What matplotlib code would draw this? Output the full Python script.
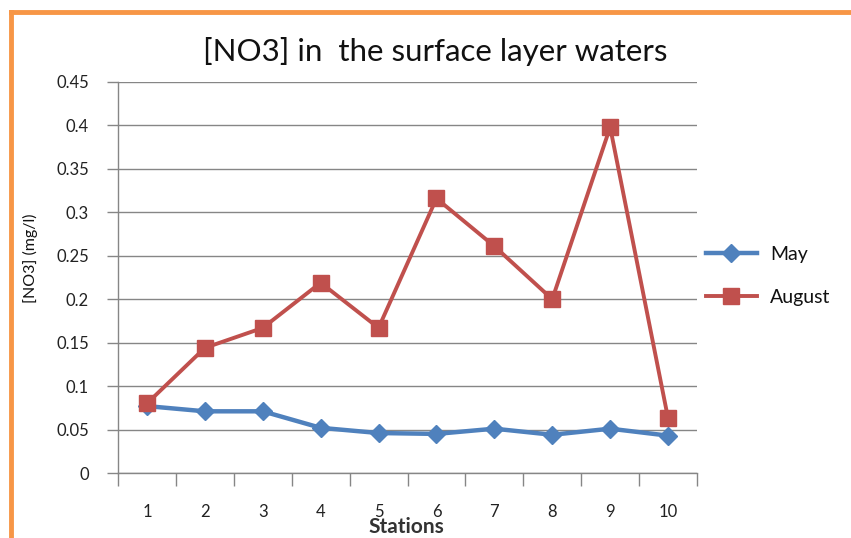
import matplotlib
matplotlib.use("Agg")
import matplotlib.pyplot as plt
from matplotlib.lines import Line2D

plt.rcParams['font.family'] = ['Lato', 'DejaVu Sans']

stations = ['1', '2', '3', '4', '5', '6', '7', '8', '9', '10']
may = [0.077, 0.071, 0.071, 0.052, 0.046, 0.045, 0.051, 0.044, 0.051, 0.043]
august = [0.080, 0.144, 0.167, 0.219, 0.167, 0.316, 0.261, 0.200, 0.398, 0.063]
y_ticks = [0, 0.05, 0.1, 0.15, 0.2, 0.25, 0.3, 0.35, 0.4, 0.45]
y_labels = ['0', '0.05', '0.1', '0.15', '0.2', '0.25', '0.3', '0.35', '0.4', '0.45']

W, H = 851, 538
fig = plt.figure(figsize=(W / 100, H / 100), dpi=100)
fig.patch.set_facecolor('white')

# orange frame around the chart area
frame_col = '#F79646'
fig.add_artist(Line2D([11 / W, 11 / W], [0, 1 - 12 / H], transform=fig.transFigure,
                      color=frame_col, lw=3.5, solid_capstyle='projecting'))
fig.add_artist(Line2D([11 / W, 1], [1 - 12 / H, 1 - 12 / H], transform=fig.transFigure,
                      color=frame_col, lw=3.5, solid_capstyle='projecting'))

ax = fig.add_axes([118 / W, (H - 473) / H, (697 - 118) / W, (473 - 82) / H])

x = [i + 0.5 for i in range(len(stations))]
ax.plot(x, may, color='#4F81BD', lw=3.2, marker='D', markersize=9,
        markeredgecolor='#4F81BD', label='May', zorder=3)
ax.plot(x, august, color='#C0504D', lw=2.8, marker='s', markersize=11,
        markeredgecolor='#C0504D', label='August', zorder=4)

ax.set_xlim(0, len(stations))
ax.set_ylim(0, 0.45)

grey = '#868686'
ax.set_yticks(y_ticks)
ax.set_yticklabels(y_labels)
ax.yaxis.grid(True, color=grey, lw=1)
ax.set_axisbelow(True)

ax.set_xticks(range(len(stations) + 1))
ax.set_xticklabels([])
ax.set_xticks(x, minor=True)
ax.set_xticklabels(stations, minor=True)
ax.tick_params(axis='x', which='major', length=9, width=1, color=grey, direction='out')
ax.tick_params(axis='x', which='minor', length=0, pad=22, labelsize=12, labelcolor='#222222')
ax.tick_params(axis='y', length=8, width=1, color=grey, direction='out', pad=13,
               labelsize=12, labelcolor='#222222')

for s in ['top', 'right']:
    ax.spines[s].set_visible(False)
for s in ['left', 'bottom']:
    ax.spines[s].set_color(grey)
    ax.spines[s].set_linewidth(1)

fig.text(435 / W, 1 - 52 / H, '[NO3] in  the surface layer waters', ha='center',
         va='center', fontsize=22.5, color='#111111')
fig.text(406 / W, 1 - 527 / H, 'Stations', ha='center', va='center', fontsize=15,
         fontweight='bold', color='#333333')
fig.text(30 / W, 1 - 258 / H, '[NO3] (mg/l)', ha='center', va='center', rotation=90,
         fontsize=11.5, color='#111111')

leg = ax.legend(loc='center left', bbox_to_anchor=(706 / W, 1 - 276 / H),
                bbox_transform=fig.transFigure, frameon=False, fontsize=14,
                handlelength=2.6, handletextpad=0.7, labelspacing=1.35,
                borderaxespad=0, borderpad=0)
for t in leg.get_texts():
    t.set_color('#111111')

fig.savefig('out.png', dpi=100)
